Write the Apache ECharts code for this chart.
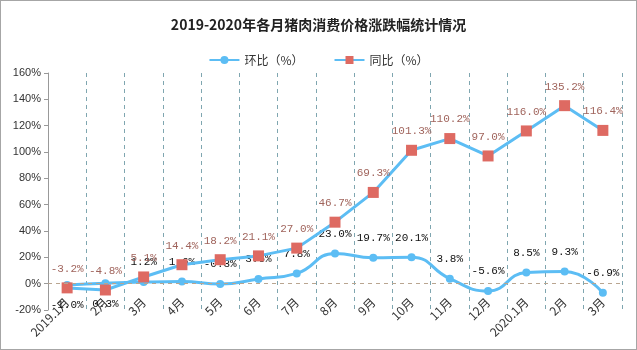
<!DOCTYPE html>
<html>
<head>
<meta charset="utf-8">
<script src="https://cdn.jsdelivr.net/npm/echarts@6/dist/echarts.min.js"></script>
<style>
  html, body { margin: 0; padding: 0; background: #fff; }
  #chart { width: 637px; height: 350px; box-sizing: border-box; border: 1px solid #a6a6a6; }
</style>
</head>
<body>
<div id="chart"></div>
<script>
// 月份
const months = ['2019.1月', '2月', '3月', '4月', '5月', '6月', '7月', '8月', '9月', '10月', '11月', '12月', '2020.1月', '2月', '3月']
// 环比（%）
const momValues = [-1.0, 0.3, 1.2, 1.6, -0.3, 3.6, 7.8, 23.0, 19.7, 20.1, 3.8, -5.6, 8.5, 9.3, -6.9]
// 同比（%）
const yoyValues = [-3.2, -4.8, 5.1, 14.4, 18.2, 21.1, 27.0, 46.7, 69.3, 101.3, 110.2, 97.0, 116.0, 135.2, 116.4]

const lineColor = '#5cbdf4'
const labelFont = 'Liberation Mono, DejaVu Sans Mono, monospace'

const chart = echarts.init(document.getElementById('chart'))

const option = {
  animation: false,
  title: {
    text: '2019-2020年各月猪肉消费价格涨跌幅统计情况',
    left: 'center',
    top: 12,
    textStyle: { fontFamily: 'Noto Sans CJK SC', fontSize: 14, fontWeight: 'bold', color: '#222' }
  },
  legend: {
    top: 48,
    left: 'center',
    itemWidth: 30,
    itemHeight: 10,
    itemGap: 30,
    textStyle: { fontFamily: 'Noto Sans CJK SC', fontSize: 12, color: '#333' },
    data: ['环比（%）', '同比（%）']
  },
  grid: { left: 47, right: 14, top: 72, bottom: 39, containLabel: false },
  xAxis: {
    type: 'category',
    data: months,
    boundaryGap: true,
    axisLine: { show: false },
    axisTick: { show: false },
    axisLabel: {
      interval: 0,
      rotate: 45,
      margin: -10,
      fontFamily: 'Noto Sans CJK SC',
      fontSize: 12,
      color: '#333'
    },
    splitLine: {
      show: true,
      interval: 0,
      lineStyle: { type: [4, 4], color: '#7fa6b0', width: 1 }
    }
  },
  yAxis: {
    type: 'value',
    min: -20,
    max: 160,
    interval: 20,
    axisLine: { show: true, lineStyle: { color: '#999' } },
    axisTick: { show: true, inside: false, length: 4, lineStyle: { color: '#999' } },
    axisLabel: { formatter: '{value}%', fontFamily: 'Liberation Sans', fontSize: 11, color: '#333', margin: 7 },
    splitLine: { show: false }
  },
  series: [
    {
      name: '环比（%）',
      type: 'line',
      data: momValues,
      smooth: true,
      symbol: 'circle',
      symbolSize: 8,
      lineStyle: { color: lineColor, width: 3 },
      itemStyle: { color: lineColor },
      label: {
        show: true,
        position: 'top',
        distance: 10,
        formatter: p => p.value.toFixed(1) + '%',
        fontFamily: labelFont,
        fontSize: 11,
        color: '#111'
      },
      labelLayout: p => (p.dataIndex < 2 ? { dy: 40 } : {}),
      markLine: {
        silent: true,
        symbol: 'none',
        label: { show: false },
        lineStyle: { type: [4, 4], color: '#b9a590', width: 1 },
        data: [{ yAxis: 0 }]
      },
      z: 2
    },
    {
      name: '同比（%）',
      type: 'line',
      data: yoyValues,
      smooth: false,
      symbol: 'rect',
      symbolSize: 11,
      lineStyle: { color: lineColor, width: 3 },
      itemStyle: { color: '#de6a62' },
      label: {
        show: true,
        position: 'top',
        distance: 8,
        formatter: p => p.value.toFixed(1) + '%',
        fontFamily: labelFont,
        fontSize: 11,
        color: '#a0645c'
      },
      z: 3
    }
  ]
}

chart.setOption(option)
</script>
</body>
</html>
